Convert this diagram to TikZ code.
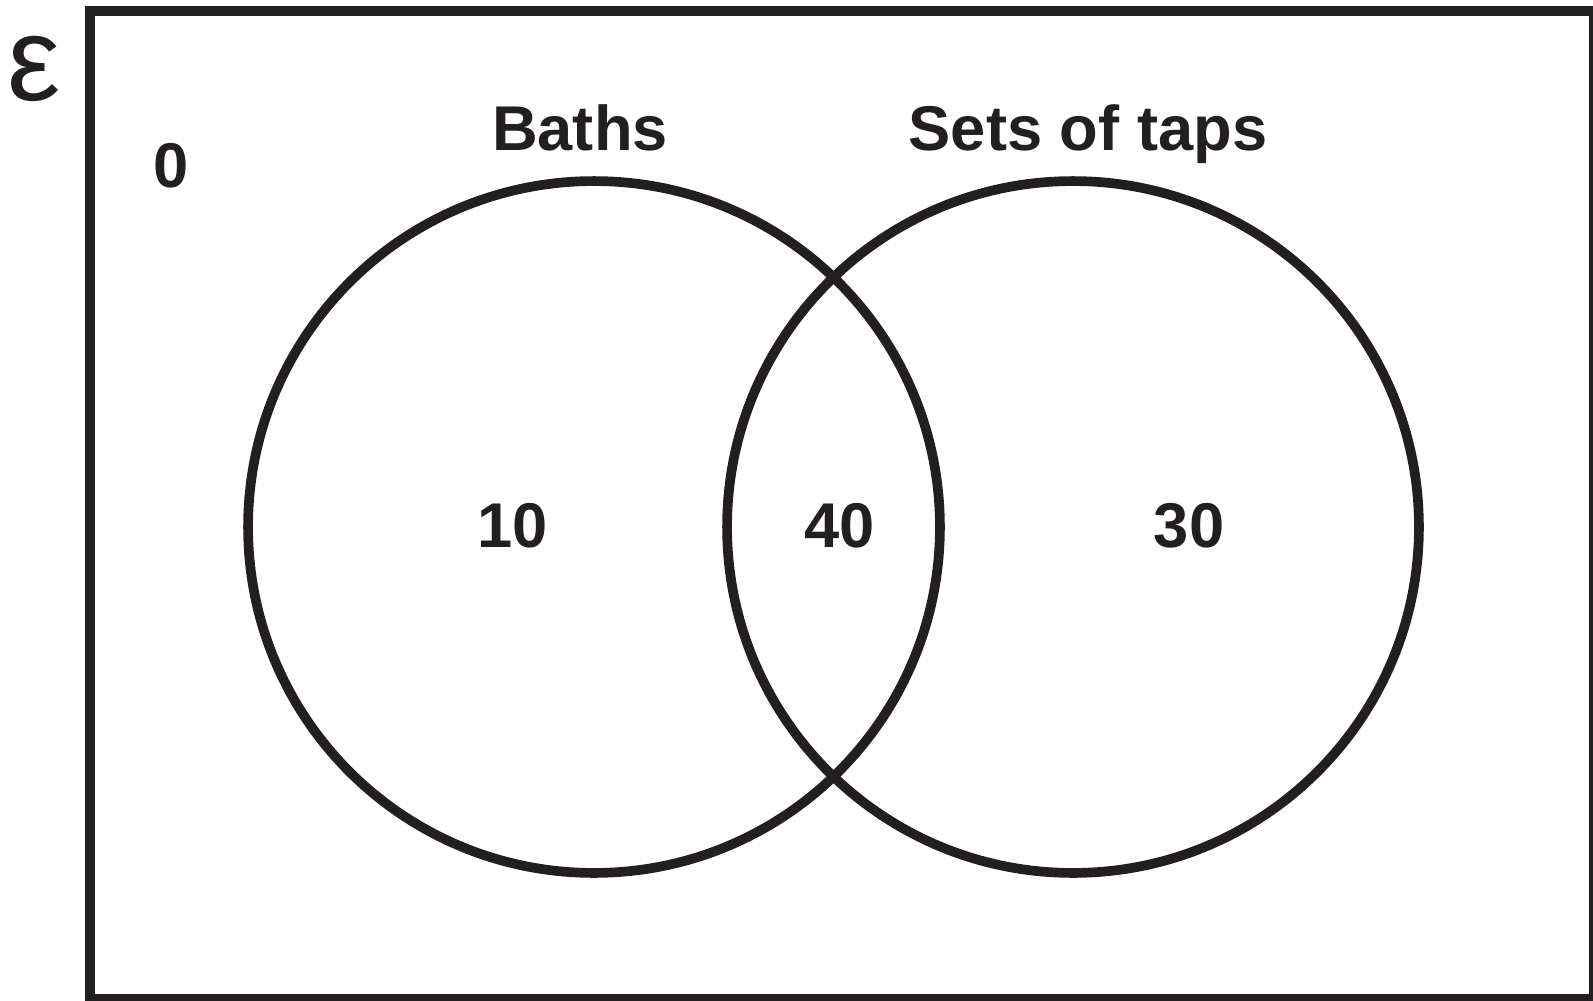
\documentclass[tikz,border=0pt]{standalone}
\usepackage{fontspec}
\setmainfont{Liberation Sans}
\begin{document}
\begin{tikzpicture}[x=0.02cm,y=-0.02cm,
  ink/.style={draw=vennink},
  setcircle/.style={circle,draw=vennink,line width=5.5pt,minimum size=13.84cm,inner sep=0pt},
  lbl/.style={text=vennink,font=\fontsize{36}{40}\selectfont\bfseries,inner sep=0pt}]
\definecolor{vennink}{HTML}{231F20}
\useasboundingbox (0,0) rectangle (1593,1001);
\draw[ink,line width=5.67pt] (90,11) rectangle (1594,999);
\node[setcircle] (baths) at (594,527) {};
\node[setcircle] (taps) at (1073,527) {};
\node[lbl,anchor=base] (bathslbl) at (580,150) {Baths};
\node[lbl,anchor=base] (tapslbl) at (1088,150) {Sets of taps};
\node[lbl] (outside) at (171,166) {0};
\node[lbl] (onlyb) at (513,526) {10};
\node[lbl] (both) at (840,526) {40};
\node[lbl] (onlyt) at (1189,526) {30};
\node[text=vennink,inner sep=0pt,font=\fontsize{68}{68}\selectfont] (eps) at (34,69) {ε};
\end{tikzpicture}
\end{document}
